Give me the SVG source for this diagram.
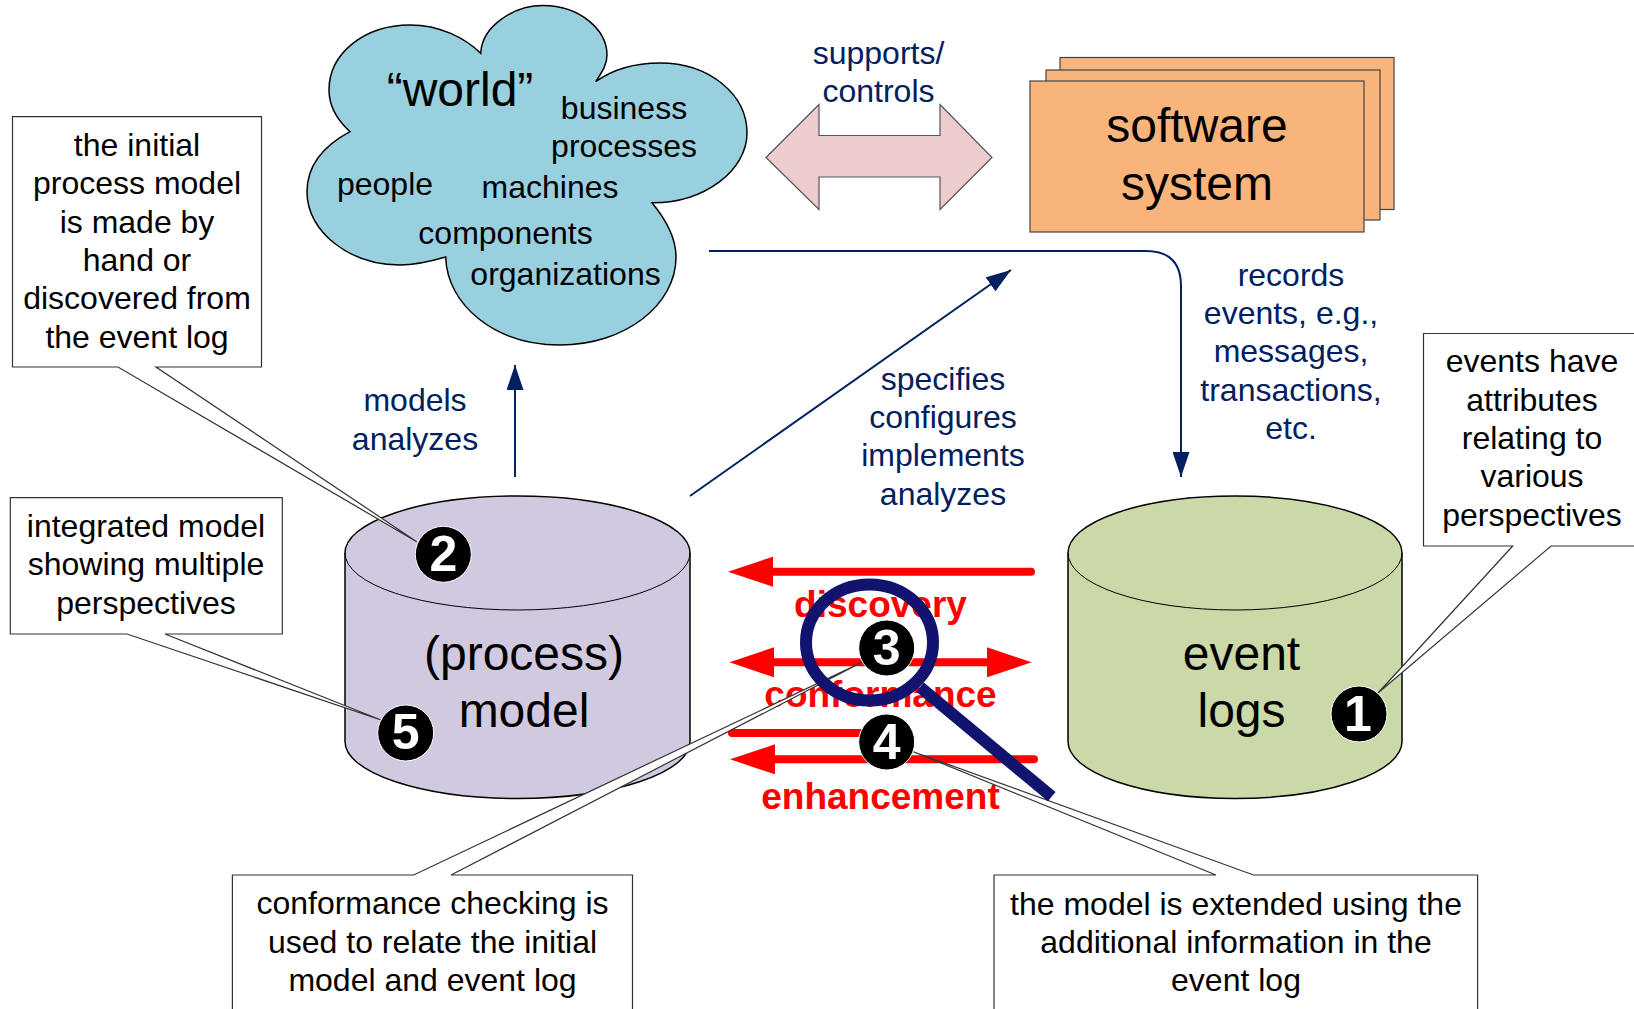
<svg xmlns="http://www.w3.org/2000/svg" width="1634" height="1009" viewBox="0 0 1634 1009">
<style>
text{font-family:"Liberation Sans",Arial,sans-serif;text-anchor:middle}
.k{font-size:32px;fill:#000}
.b{font-size:32px;fill:#002060}
.l{font-size:48px;fill:#000}
.r{font-size:37px;font-weight:bold;fill:#f00}
.n{font-size:50px;font-weight:bold;fill:#fff}
.call{fill:#fff;stroke:#333;stroke-width:1.2}
.blue{fill:none;stroke:#002060;stroke-width:2}
.red{fill:none;stroke:#f00;stroke-width:8;stroke-linecap:round}
.num{fill:#000;stroke:#fff;stroke-width:1}
.sw{fill:#f8b47a;stroke:#444;stroke-width:1.2}
</style>
<defs>
<marker id="ah" markerUnits="userSpaceOnUse" markerWidth="25" markerHeight="17" refX="25" refY="8.5" orient="auto" viewBox="0 0 25 17"><path d="M0,0L25,8.5L0,17z" fill="#002060"/></marker>
</defs>
<g id="world">
<path d="M480.7,53.3C482,25 515,5.5 543,5.5C580,5.5 607,30 607,55C607,65 602,72 595.7,81.7C612,70 635,63 660,63C710,63 747,95 747,133C747,170 705,203 652,202.7C668,222 676,240 676,257C676,305 625,345 560,345C495,345 447,305 445.7,257C425,263 410,265 400,265C350,265 307,232 307,192C307,165 325,145 350,131.7C335,118 329,105 329,90C329,53 365,25 410,25C440,25 465,38 480.7,53.3Z" fill="#99d0df" stroke="#000" stroke-width="1.5"/>
<text class="l" x="460" y="105.5">“world”</text>
<text class="k" x="624" y="119">business</text>
<text class="k" x="624" y="157">processes</text>
<text class="k" x="385" y="195">people</text>
<text class="k" x="550" y="198">machines</text>
<text class="k" x="505.5" y="244">components</text>
<text class="k" x="565.5" y="285">organizations</text>
</g>
<g id="software">
<rect class="sw" x="1060" y="57.5" width="334" height="152"/>
<rect class="sw" x="1046" y="70" width="334" height="150"/>
<rect class="sw" x="1030" y="81" width="334" height="151"/>
<text class="l" x="1197" y="142">software</text>
<text class="l" x="1197" y="200">system</text>
</g>
<g id="process-model">
<path d="M345,553A172.5,57 0 0 1 690,553V741.5A172.5,57 0 0 1 345,741.5Z" fill="#d1c9df" stroke="#000" stroke-width="1.5"/>
<path d="M345,553A172.5,57 0 0 0 690,553" fill="none" stroke="#000"/>
<text class="l" x="524" y="670">(process)</text>
<text class="l" x="524" y="727">model</text>
</g>
<g id="event-logs">
<path d="M1068,553A167,57 0 0 1 1402,553V741.5A167,57 0 0 1 1068,741.5Z" fill="#cbd8a8" stroke="#000" stroke-width="1.5"/>
<path d="M1068,553A167,57 0 0 0 1402,553" fill="none" stroke="#000"/>
<text class="l" x="1241.5" y="670">event</text>
<text class="l" x="1241.5" y="727">logs</text>
</g>
<g id="connectors">
<path d="M766,157.5L819,104.5V135.5H940V104.5L992,157.5L940,209.5V177H819V209.5Z" fill="#eccccc" stroke="#555" stroke-width="1.2"/>
<path class="blue" d="M709,251H1146Q1181,251 1181,286V477" marker-end="url(#ah)"/>
<path class="blue" d="M515,477V365" marker-end="url(#ah)"/>
<path class="blue" d="M690,496L1011,270" marker-end="url(#ah)"/>
<path class="red" d="M1031,571.7H770"/><path d="M728,571.7L773,556.7V586.7Z" fill="#f00"/>
<path class="red" d="M770,662.3H990" stroke-linecap="butt"/><path d="M729.5,662.3L774,647.3V677.3Z" fill="#f00"/><path d="M1031.7,662.3L987,647.3V677.3Z" fill="#f00"/>
<path class="red" d="M732,733H870"/>
<path class="red" d="M1034,759.3H770"/><path d="M730,759.3L775,744.3V774.3Z" fill="#f00"/>
</g>
<g id="labels">
<text class="b" x="415" y="411">models</text>
<text class="b" x="415" y="450">analyzes</text>
<text class="b" x="878.5" y="64">supports/</text>
<text class="b" x="878.5" y="102">controls</text>
<text class="b" x="1291" y="285.5">records</text>
<text class="b" x="1291" y="323.7">events, e.g.,</text>
<text class="b" x="1291" y="362">messages,</text>
<text class="b" x="1291" y="401">transactions,</text>
<text class="b" x="1291" y="439">etc.</text>
<text class="b" x="943" y="390">specifies</text>
<text class="b" x="943" y="428">configures</text>
<text class="b" x="943" y="466">implements</text>
<text class="b" x="943" y="505">analyzes</text>
<text class="r" x="880.5" y="617">discovery</text>
<text class="r" x="880.5" y="707">conformance</text>
<text class="r" x="880.5" y="809">enhancement</text>
</g>
<g id="callout-2">
<path class="call" d="M12.5,116.7H261.5V367H156L416.7,541.7L118,367H12.5Z"/>
<text class="k" x="137" y="156">the initial</text>
<text class="k" x="137" y="194">process model</text>
<text class="k" x="137" y="233">is made by</text>
<text class="k" x="137" y="271">hand or</text>
<text class="k" x="137" y="309">discovered from</text>
<text class="k" x="137" y="348">the event log</text>
</g>
<g id="callout-5">
<path class="call" d="M10.3,497.7H282.3V634H165L381,720L127,634H10.3Z"/>
<text class="k" x="146" y="537">integrated model</text>
<text class="k" x="146" y="575">showing multiple</text>
<text class="k" x="146" y="614">perspectives</text>
</g>
<g id="callout-1">
<path class="call" d="M1423.5,333.5H1640V546H1551L1378,693L1512.7,546H1423.5Z"/>
<text class="k" x="1532" y="372">events have</text>
<text class="k" x="1532" y="411">attributes</text>
<text class="k" x="1532" y="449">relating to</text>
<text class="k" x="1532" y="487">various</text>
<text class="k" x="1532" y="526">perspectives</text>
</g>
<g id="callout-3">
<path class="call" d="M232.4,875H413.7L862,662.3L451,875H632.5V1015H232.4Z"/>
<text class="k" x="432.5" y="914">conformance checking is</text>
<text class="k" x="432.5" y="953">used to relate the initial</text>
<text class="k" x="432.5" y="991">model and event log</text>
</g>
<g id="callout-4">
<path class="call" d="M994,875H1216L913.3,751.7L1253.5,875H1477.6V1015H994Z"/>
<text class="k" x="1236" y="915">the model is extended using the</text>
<text class="k" x="1236" y="953">additional information in the</text>
<text class="k" x="1236" y="991">event log</text>
</g>
<g id="magnifier">
<ellipse cx="869.5" cy="642.5" rx="63.5" ry="58" fill="none" stroke="#12126f" stroke-width="12"/>
<path d="M920,687L1051.7,796.7" stroke="#12126f" stroke-width="12" fill="none"/>
</g>
<g id="badge-1"><circle class="num" cx="1359" cy="714" r="28"/><text class="n" x="1358" y="731">1</text></g>
<g id="badge-2"><circle class="num" cx="443.3" cy="554.3" r="28"/><text class="n" x="443.3" y="571">2</text></g>
<g id="badge-3"><circle class="num" cx="886.7" cy="648" r="28"/><text class="n" x="886.7" y="665">3</text></g>
<g id="badge-4"><circle class="num" cx="886.7" cy="742" r="28"/><text class="n" x="886.7" y="759">4</text></g>
<g id="badge-5"><circle class="num" cx="405.7" cy="733" r="28"/><text class="n" x="405.7" y="749">5</text></g>
</svg>
